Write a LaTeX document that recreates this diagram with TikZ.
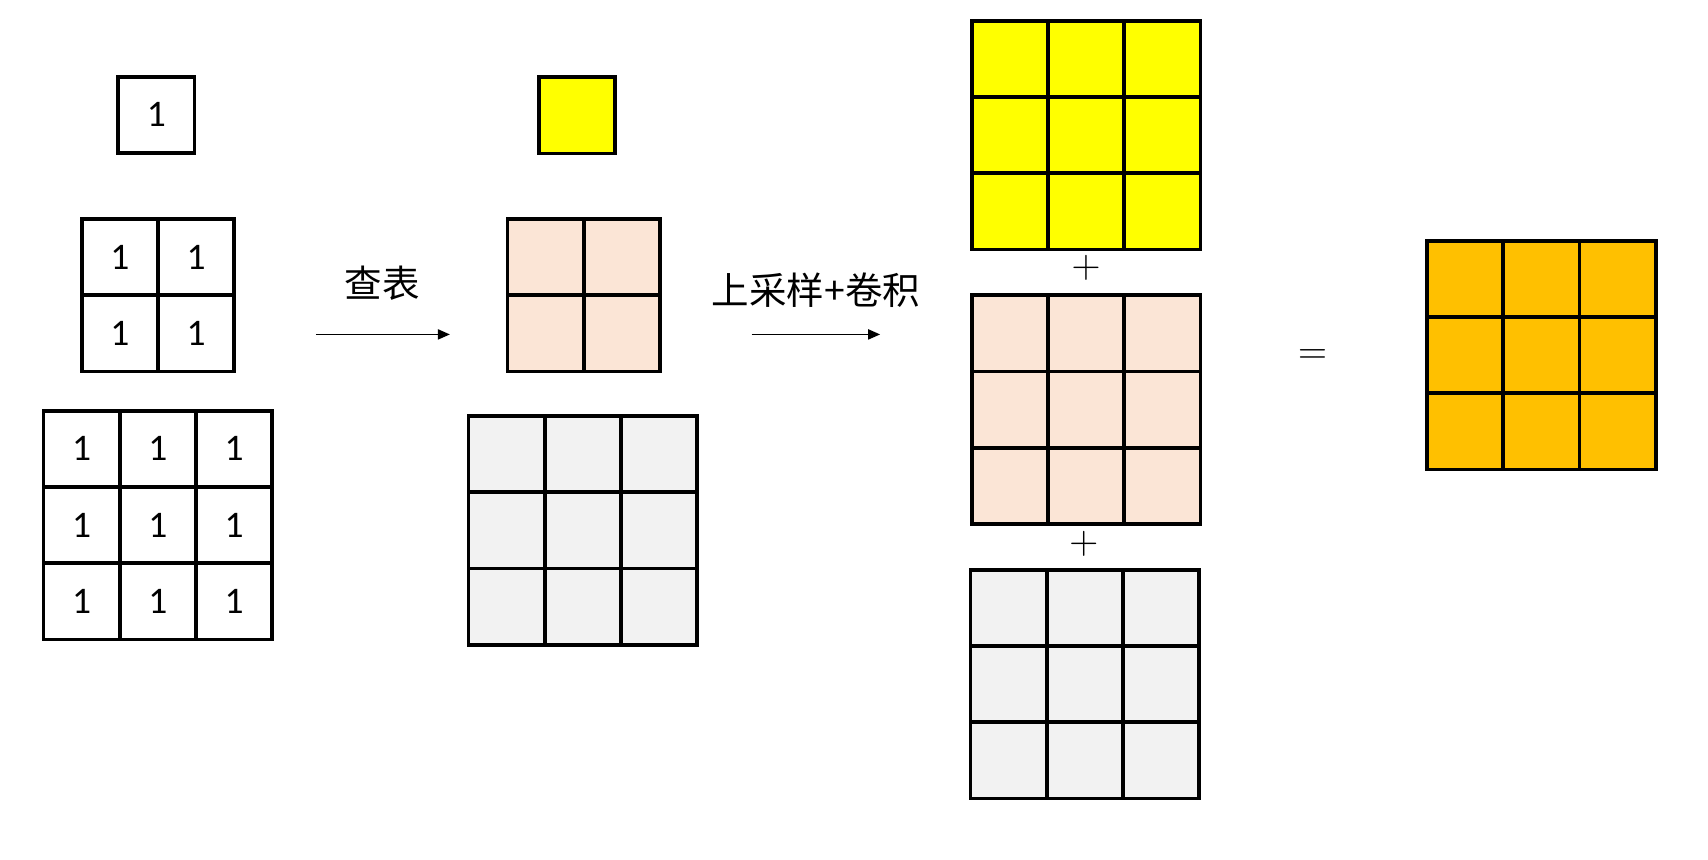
\documentclass[tikz,border=0pt]{standalone}
\usepackage{fontspec}
\setmainfont{Carlito}
\newfontfamily\cjk{Noto Sans CJK SC}
\usetikzlibrary{positioning,arrows.meta}

\definecolor{lutyellow}{HTML}{FFFF00}
\definecolor{lutpink}{HTML}{FBE5D6}
\definecolor{lutgray}{HTML}{F2F2F2}
\definecolor{lutorange}{HTML}{FFC000}

\begin{document}
\begin{tikzpicture}[x=1cm, y=1cm]
	\tikzset{
		cell/.style={draw, line width=1.4pt, minimum size=1cm, inner sep=0pt, font=\fontsize{14}{16}\selectfont},
		ycell/.style={cell, fill=lutyellow},
		pcell/.style={cell, fill=lutpink},
		gcell/.style={cell, fill=lutgray},
		ocell/.style={cell, fill=lutorange},
		lbl/.style={font=\cjk\fontsize{14}{16}\selectfont, inner sep=0pt},
		op/.style={font=\fontsize{15}{17}\selectfont, inner sep=0pt},
		arrow/.style={line width=0.6pt, -{Triangle[length=4.5pt, width=3.8pt]}}
	}
	\useasboundingbox (0,0) rectangle (22.4,-11.271);
	
	% ---- input: 1x1, 2x2, 3x3 of ones ----
	\node[cell] (in1) at (2.05,-1.507) {1};
	\foreach \r in {1,2}
		\foreach \c in {1,2}
			\node[cell] (in2-\r-\c) at ({1.071+\c-0.5},{-2.871-\r+0.5}) {1};
	\foreach \r in {1,2,3}
		\foreach \c in {1,2,3}
			\node[cell] (in3-\r-\c) at ({0.571+\c-0.5},{-5.386-\r+0.5}) {1};
	
	% ---- lookup arrow ----
	\coordinate (a1s) at (4.143,-4.386);
	\coordinate (a1e) at (5.9,-4.386);
	\draw[arrow] (a1s) -- (a1e);
	\node[lbl] (t1) at (5.014,-3.714) {查表};
	
	% ---- looked-up values ----
	\node[ycell] (lu1) at (7.564,-1.514) {};
	\foreach \r in {1,2}
		\foreach \c in {1,2}
			\node[pcell] (lu2-\r-\c) at ({6.657+\c-0.5},{-2.871-\r+0.5}) {};
	\foreach \r in {1,2,3}
		\foreach \c in {1,2,3}
			\node[gcell] (lu3-\r-\c) at ({6.143+\c-0.5},{-5.457-\r+0.5}) {};
	
	% ---- upsample + conv arrow ----
	\coordinate (a2s) at (9.857,-4.386);
	\coordinate (a2e) at (11.543,-4.386);
	\draw[arrow] (a2s) -- (a2e);
	\node[lbl] (t2) at (10.7,-3.8) {上采样+卷积};
	
	% ---- upsampled maps ----
	\foreach \r in {1,2,3}
		\foreach \c in {1,2,3}
		{
			\node[ycell] (up1-\r-\c) at ({12.743+\c-0.5},{-0.271-\r+0.5}) {};
			\node[pcell] (up2-\r-\c) at ({12.743+\c-0.5},{-3.871-\r+0.5}) {};
			\node[gcell] (up3-\r-\c) at ({12.729+\c-0.5},{-7.471-\r+0.5}) {};
		}
	\node[op] (plus1) at (14.243,-3.514) {$+$};
	\node[op] (plus2) at (14.214,-7.129) {$+$};
	\node[op] (eq) at (17.214,-4.671) {$=$};
	
	% ---- result ----
	\foreach \r in {1,2,3}
		\foreach \c in {1,2,3}
			\node[ocell] (out-\r-\c) at ({18.714+\c-0.5},{-3.157-\r+0.5}) {};
\end{tikzpicture}
\end{document}
